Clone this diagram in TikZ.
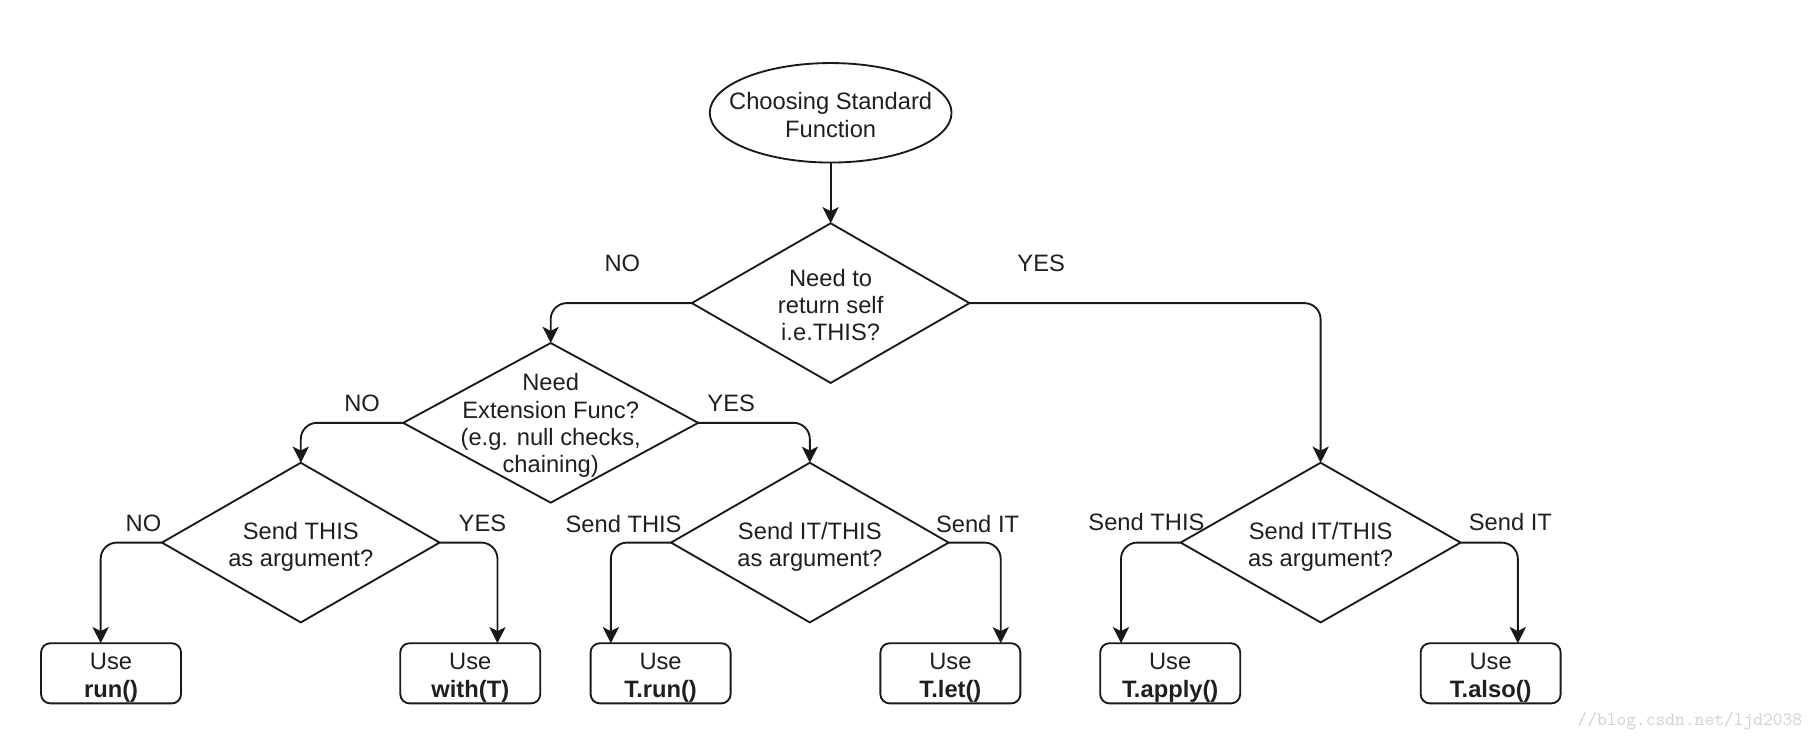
\documentclass[tikz,border=0pt]{standalone}
\usepackage{fontspec}
\setmainfont{Liberation Sans}
\usetikzlibrary{shapes.geometric,arrows.meta}
\begin{document}
\begin{tikzpicture}[x=1pt,y=-1pt,
  ln/.style={draw=black!90, line width=1.6pt},
  conn/.style={ln, rounded corners=14pt, -{Stealth[length=14pt,width=14pt,inset=3.5pt]}},
  dia/.style={diamond, ln, inner sep=0pt, outer sep=0pt, minimum width=240pt, minimum height=138pt},
  txt/.style={font=\fontsize{20.5}{23.6}\selectfont, align=center, inner sep=0pt, text=black!88},
  box/.style={rectangle, ln, rounded corners=8pt, inner sep=0pt, outer sep=0pt, minimum width=121pt, minimum height=52pt},
  wmark/.style={font=\fontsize{16.4}{18}\ttfamily, text=black!18, inner sep=0pt}]
\useasboundingbox (0,0) rectangle (1568,638);

% shapes
\node[ellipse, ln, inner sep=0pt, outer sep=0pt, minimum width=209pt, minimum height=86pt] (start) at (718,97.5) {};
\node[txt] (startt) at (718,99.3) {Choosing Standard\\Function};

\node[dia] (d1) at (718,262) {};
\node[txt] (d1t) at (718,263.5) {Need to\\return self\\i.e.THIS?};

\node[dia, minimum width=255pt] (d2) at (476,365.5) {};
\node[txt] (d2t) at (476,368) {Need\\Extension Func?\\(e.g. null checks,\\chaining)};

\node[dia] (d3) at (260,469) {};
\node[txt] (d3t) at (260,472.5) {Send THIS\\as argument?};

\node[dia] (d4) at (700,469) {};
\node[txt] (d4t) at (700,472.5) {Send IT/THIS\\as argument?};

\node[dia, minimum width=242pt] (d5) at (1141.5,469) {};
\node[txt] (d5t) at (1141.5,472.5) {Send IT/THIS\\as argument?};

% result boxes
\node[box] (b1) at (96,582) {};
\node[txt] (b1t) at (96,586) {Use\\\textbf{run()}};
\node[box] (b2) at (406.5,582) {};
\node[txt] (b2t) at (406.5,586) {Use\\\textbf{with(T)}};
\node[box] (b3) at (571,582) {};
\node[txt] (b3t) at (571,586) {Use\\\textbf{T.run()}};
\node[box] (b4) at (821.5,582) {};
\node[txt] (b4t) at (821.5,586) {Use\\\textbf{T.let()}};
\node[box] (b5) at (1011.5,582) {};
\node[txt] (b5t) at (1011.5,586) {Use\\\textbf{T.apply()}};
\node[box] (b6) at (1288.5,582) {};
\node[txt] (b6t) at (1288.5,586) {Use\\\textbf{T.also()}};

% labels
\node[txt] (l1) at (538,228) {NO};
\node[txt] (l2) at (900,228) {YES};
\node[txt] (l3) at (313,349) {NO};
\node[txt] (l4) at (632,349) {YES};
\node[txt] (l5) at (124,452) {NO};
\node[txt] (l6) at (417,452) {YES};
\node[txt] (l7) at (539,453) {Send THIS};
\node[txt] (l8) at (845,453) {Send IT};
\node[txt] (l9) at (991,451) {Send THIS};
\node[txt] (l10) at (1305.5,451) {Send IT};

% connectors
\draw[conn] (start.south) -- (d1.north);
\draw[conn] (d1.west) -| (d2.north);
\draw[conn] (d1.east) -| (d5.north);
\draw[conn] (d2.west) -| (d3.north);
\draw[conn] (d2.east) -| (d4.north);
\draw[conn] (d3.west) -| ([xshift=-9pt]b1.north);
\draw[conn] (d3.east) -| ([xshift=23.5pt]b2.north);
\draw[conn] (d4.west) -| ([xshift=-43pt]b3.north);
\draw[conn] (d4.east) -| ([xshift=43.5pt]b4.north);
\draw[conn] (d5.west) -| ([xshift=-42.5pt]b5.north);
\draw[conn] (d5.east) -| ([xshift=23.5pt]b6.north);

% watermark
\node[wmark, anchor=base east] (wm) at (1558,627) {//blog.csdn.net/ljd2038};
\end{tikzpicture}
\end{document}
